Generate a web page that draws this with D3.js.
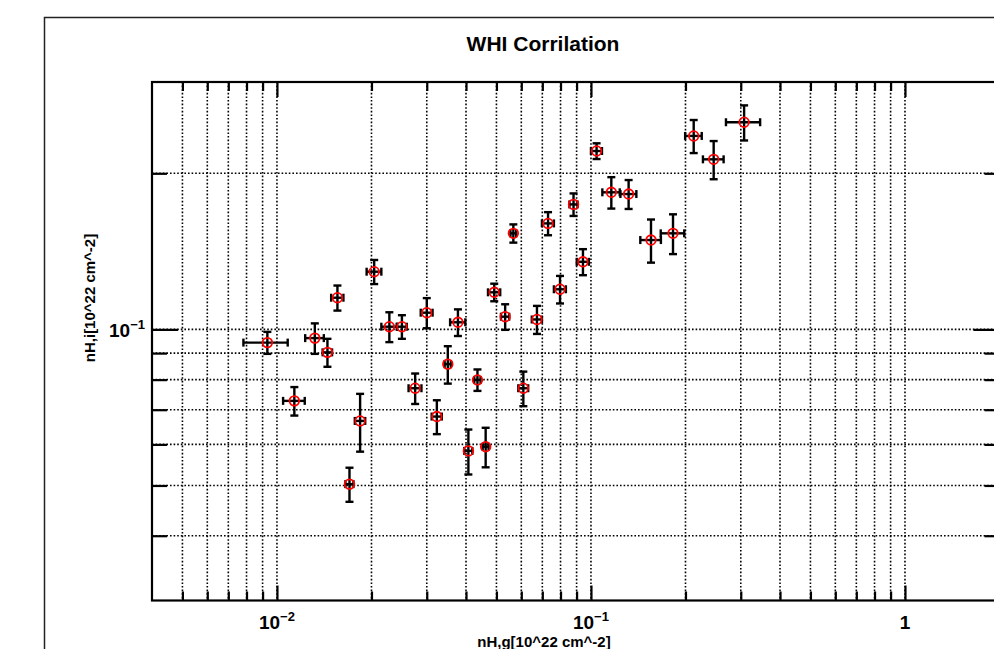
<!DOCTYPE html>
<html>
<head>
<meta charset="utf-8">
<script src="https://cdn.jsdelivr.net/npm/d3@7"></script>
<style>
  body { margin: 0; background: #fff; }
  svg { display: block; }
  text { font-family: "Liberation Sans", Arial, sans-serif; font-weight: bold; fill: #000; }
</style>
</head>
<body>
<script>
// nH,g (x) with error, nH,i (y) with error, in 10^22 cm^-2
let nhg    = [0.00932,0.01136,0.0132,0.01448,0.01558,0.01702,0.0184,0.0204,0.0228,0.0250,0.02755,0.0300,0.0323,0.0350,0.0377,0.0407,0.0435,0.0462,0.0492,0.0533,0.0566,0.0609,0.0673,0.0730,0.0797,0.0880,0.0943,0.1042,0.1161,0.1318,0.1553,0.1825,0.2124,0.2459,0.3074];
let nhgErr = [0.0015,0.0009,0.0009,0.0005,0.0007,0.0005,0.0007,0.0011,0.0013,0.0009,0.0013,0.0013,0.0012,0.0008,0.0021,0.0012,0.0010,0.0010,0.0022,0.0016,0.0012,0.0022,0.0025,0.0032,0.0035,0.0026,0.0042,0.0042,0.0074,0.0077,0.0117,0.0157,0.0129,0.0186,0.0383];
let nhi    = [0.0943,0.0728,0.0962,0.0903,0.1151,0.0503,0.0666,0.1292,0.1012,0.1012,0.0770,0.1077,0.0679,0.0857,0.1032,0.0583,0.0799,0.0594,0.1179,0.1058,0.1532,0.0770,0.1045,0.1601,0.1195,0.1742,0.1350,0.2208,0.1838,0.1824,0.1487,0.1532,0.2361,0.2128,0.2509];
let nhiErr = [0.0046,0.0046,0.0065,0.0056,0.0064,0.0038,0.0085,0.0069,0.0067,0.0053,0.0052,0.0072,0.0051,0.0071,0.0061,0.0058,0.0038,0.0052,0.0046,0.0060,0.0062,0.0059,0.0065,0.0082,0.0073,0.0087,0.0078,0.0077,0.0128,0.0117,0.0142,0.0135,0.0173,0.0180,0.0195];

let xMajor = [0.01, 0.1, 1];
let xMajorLabels = [["10","\u22122"],["10","\u22121"],["1",""]];
let yMajor = [0.1];
let yMajorLabels = [["10","\u22121"]];

let title = "WHI Corrilation";
let xTitle = "nH,g[10^22 cm^-2]";
let yTitle = "nH,i[10^22 cm^-2]";

let data = nhg.map((d,i)=>({x:d, ex:nhgErr[i], y:nhi[i], ey:nhiErr[i]}));

let L = 152, R = 999.5, T = 82, B = 600.5;
let x = d3.scaleLog().domain([0.004,2]).range([L,R]);
let y = d3.scaleLog().domain([0.03,0.3]).range([B,T]);

let svg = d3.select("body").append("svg").attr("width",994).attr("height",649);

// outer frame of the figure
svg.append("rect")
      .attr("x",44.5).attr("y",17.5)
      .attr("width",1100).attr("height",700)
      .attr("fill","none").attr("stroke","#222").attr("stroke-width",1.5);

let xGrid = x.ticks().filter(v => v > 0.00401 && v < 1.99);
let yGrid = y.ticks().filter(v => v > 0.0301 && v < 0.299);
let xMinor = xGrid.filter(v => !xMajor.some(m => Math.abs(m-v)/m < 1e-6));
let yMinor = yGrid.filter(v => !yMajor.some(m => Math.abs(m-v)/m < 1e-6));

// dotted grid
svg.selectAll("line.gx")
      .data(xGrid)
      .enter().append("line")
                .attr("class","gx")
                .attr("x1",d=>x(d)).attr("x2",d=>x(d))
                .attr("y1",T).attr("y2",B)
                .attr("stroke","#000").attr("stroke-width",1.6)
                .attr("stroke-dasharray","1.6,2");
svg.selectAll("line.gy")
      .data(yGrid)
      .enter().append("line")
                .attr("class","gy")
                .attr("y1",d=>y(d)).attr("y2",d=>y(d))
                .attr("x1",L).attr("x2",R)
                .attr("stroke","#000").attr("stroke-width",1.6)
                .attr("stroke-dasharray","1.6,2");

// ticks (inward) on all four sides
function ticks(axis, vals, size, tr) {
  let g = svg.append("g").attr("transform",tr)
      .call(axis.tickValues(vals).tickSize(size).tickSizeOuter(0).tickFormat(""));
  g.select(".domain").remove();
  g.selectAll(".tick line").attr("stroke","#000").attr("stroke-width",2.2);
}
ticks(d3.axisBottom(x), xMinor, -9, `translate(0,${B})`);
ticks(d3.axisBottom(x), xMajor, -15, `translate(0,${B})`);
ticks(d3.axisTop(x), xMinor, -9, `translate(0,${T})`);
ticks(d3.axisTop(x), xMajor, -15, `translate(0,${T})`);
ticks(d3.axisLeft(y), yMinor, -15, `translate(${L},0)`);
ticks(d3.axisLeft(y), yMajor, -26, `translate(${L},0)`);
ticks(d3.axisRight(y), yMinor, -15, `translate(${R},0)`);
ticks(d3.axisRight(y), yMajor, -26, `translate(${R},0)`);

// plot box
svg.append("rect")
      .attr("x",L).attr("y",T).attr("width",R-L).attr("height",B-T)
      .attr("fill","none").attr("stroke","#000").attr("stroke-width",2.2);

// tick labels
let xl = svg.selectAll("text.xl")
      .data(xMajor)
      .enter().append("text")
                .attr("class","xl")
                .attr("x",d=>x(d)).attr("y",629)
                .attr("text-anchor","middle")
                .attr("font-size",19);
xl.append("tspan").text((d,i)=>xMajorLabels[i][0]);
xl.append("tspan").attr("dy",-8).attr("font-size",13).text((d,i)=>xMajorLabels[i][1]);

let yl = svg.selectAll("text.yl")
      .data(yMajor)
      .enter().append("text")
                .attr("class","yl")
                .attr("x",145).attr("y",d=>y(d)+8)
                .attr("text-anchor","end")
                .attr("font-size",19);
yl.append("tspan").text((d,i)=>yMajorLabels[i][0]);
yl.append("tspan").attr("dy",-8).attr("font-size",13).text((d,i)=>yMajorLabels[i][1]);

// titles
svg.append("text").attr("x",543).attr("y",51)
      .attr("text-anchor","middle").attr("font-size",21).text(title);
svg.append("text").attr("x",544).attr("y",647)
      .attr("text-anchor","middle").attr("font-size",15).text(xTitle);
svg.append("text").attr("transform","translate(95,298) rotate(-90)")
      .attr("text-anchor","middle").attr("font-size",15).text(yTitle);

// error bars
let cap = 4;
let pts = svg.selectAll("g.pt")
      .data(data)
      .enter().append("g").attr("class","pt")
      .attr("stroke","#000").attr("stroke-width",2.4);
pts.append("line")
      .attr("x1",d=>x(d.x)).attr("x2",d=>x(d.x))
      .attr("y1",d=>y(d.y+d.ey)).attr("y2",d=>y(d.y-d.ey));
pts.append("line")
      .attr("x1",d=>x(d.x)-cap).attr("x2",d=>x(d.x)+cap)
      .attr("y1",d=>y(d.y+d.ey)).attr("y2",d=>y(d.y+d.ey));
pts.append("line")
      .attr("x1",d=>x(d.x)-cap).attr("x2",d=>x(d.x)+cap)
      .attr("y1",d=>y(d.y-d.ey)).attr("y2",d=>y(d.y-d.ey));
pts.append("line")
      .attr("x1",d=>x(d.x-d.ex)).attr("x2",d=>x(d.x+d.ex))
      .attr("y1",d=>y(d.y)).attr("y2",d=>y(d.y));
pts.append("line")
      .attr("x1",d=>x(d.x-d.ex)).attr("x2",d=>x(d.x-d.ex))
      .attr("y1",d=>y(d.y)-cap).attr("y2",d=>y(d.y)+cap);
pts.append("line")
      .attr("x1",d=>x(d.x+d.ex)).attr("x2",d=>x(d.x+d.ex))
      .attr("y1",d=>y(d.y)-cap).attr("y2",d=>y(d.y)+cap);

// red circle markers
svg.selectAll("circle.mk")
      .data(data)
      .enter().append("circle")
                .attr("class","mk")
                .attr("cx",d=>x(d.x)).attr("cy",d=>y(d.y))
                .attr("r",4.8)
                .attr("fill","none").attr("stroke","#ff0000").attr("stroke-width",1.8);
</script>
</body>
</html>
